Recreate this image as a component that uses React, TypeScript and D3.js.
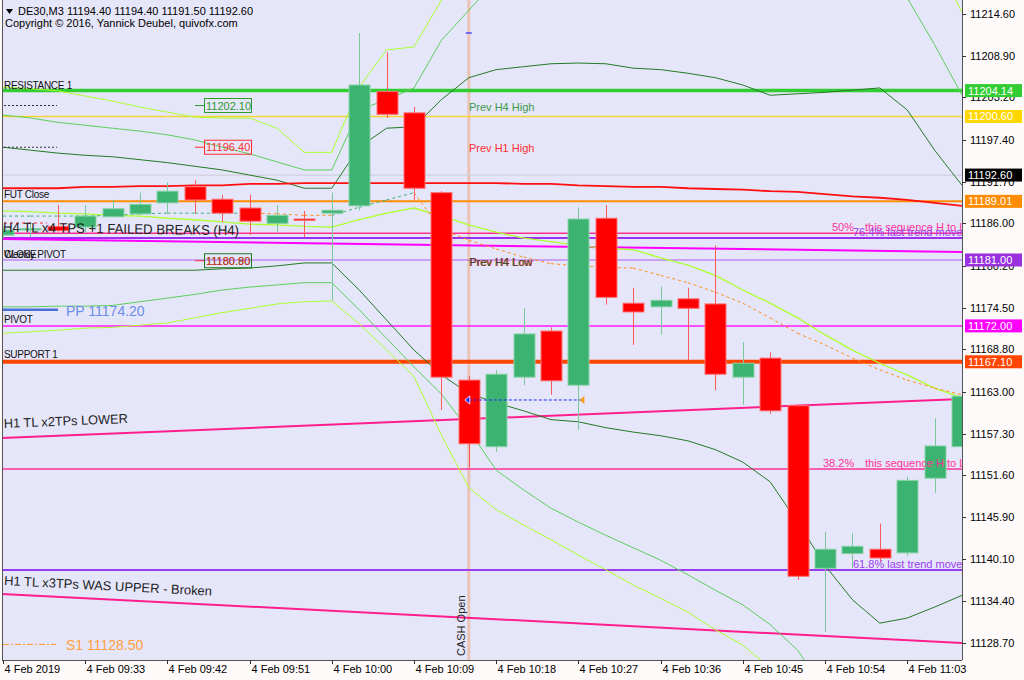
import React from "react";
import * as d3 from "d3";

// ---------- DATA ----------
const barTimes = ["09:24","09:27","09:30","09:33","09:36","09:39","09:42","09:45","09:48","09:51","09:54","09:57","10:00","10:03","10:06","10:09","10:12","10:15","10:18","10:21","10:24","10:27","10:30","10:33","10:36","10:39","10:42","10:45","10:48","10:51","10:54","10:57","11:00","11:03","11:06","11:09"];
const openP = [11184.4,11185.3,11185.6,11185.5,11186.9,11187.3,11188.8,11191.0,11189.3,11188.1,11186.0,11186.6,11187.4,11188.4,11204.0,11201.1,11190.2,11164.6,11155.5,11165.0,11171.3,11163.9,11186.7,11175.1,11174.6,11175.7,11175.0,11165.0,11167.6,11161.1,11138.9,11140.9,11141.5,11141.0,11151.2,11155.5];
const highP = [11185.6,11186.0,11188.5,11188.5,11189.2,11190.2,11191.6,11191.9,11189.9,11189.9,11188.5,11187.7,11190.2,11212.0,11209.4,11201.9,11190.4,11165.2,11166.0,11174.4,11171.8,11188.2,11188.5,11177.2,11177.4,11177.2,11183.0,11169.8,11168.4,11161.3,11143.9,11143.7,11145.0,11151.4,11159.4,11163.2];
const lowP = [11184.0,11184.1,11184.9,11184.8,11186.8,11187.2,11187.4,11187.4,11186.2,11184.4,11184.8,11184.1,11175.5,11187.8,11200.4,11189.2,11160.5,11152.7,11154.8,11163.9,11162.6,11157.8,11174.9,11169.4,11170.8,11167.3,11163.2,11161.2,11160.0,11137.3,11130.2,11138.9,11139.7,11140.6,11149.2,11155.0];
const closeP = [11185.1,11185.3,11185.0,11187.0,11188.0,11188.6,11190.4,11189.2,11187.4,11186.3,11187.1,11186.5,11187.8,11204.9,11200.9,11190.8,11165.0,11155.9,11165.4,11170.9,11164.5,11186.6,11175.9,11173.9,11175.5,11174.4,11165.4,11166.9,11160.4,11137.8,11141.5,11141.9,11140.3,11150.9,11155.6,11162.4];

const bandUpper3 = [11204.6,11204.4,11204.1,11203.4,11202.7,11201.9,11201.2,11200.5,11200.4,11200.4,11199.0,11195.7,11195.7,11204.6,11209.7,11210.1,11216.5,11222.0,11227.4,11227.4,11227.4,11227.4,11227.4,11227.4,11227.4,11227.4,11227.4,11227.4,11227.4,11227.4,11227.4,11227.4,11227.4,11227.4,11222.0,11214.9];
const bandUpper2 = [11200.8,11200.4,11199.8,11199.4,11199.0,11198.6,11198.1,11197.4,11196.4,11195.5,11194.4,11193.3,11193.3,11201.5,11202.9,11204.5,11211.0,11215.1,11219.2,11223.3,11224.7,11224.7,11224.7,11224.7,11224.7,11224.7,11224.7,11224.7,11224.7,11224.7,11224.7,11224.7,11224.7,11216.8,11210.4,11203.5];
const bandUpper1 = [11196.4,11196.0,11195.6,11195.3,11195.1,11194.7,11194.3,11193.8,11193.3,11192.6,11191.9,11190.8,11190.8,11196.4,11199.0,11199.2,11202.9,11205.9,11207.0,11207.4,11207.8,11207.9,11207.8,11207.2,11207.0,11206.5,11205.9,11204.9,11203.5,11203.7,11203.9,11204.2,11204.5,11201.5,11196.0,11191.2];
const bandLower1 = [11179.6,11179.6,11179.6,11179.6,11179.6,11179.6,11179.6,11179.6,11179.8,11179.9,11180.2,11180.6,11180.6,11176.9,11172.8,11168.7,11165.3,11162.8,11161.5,11160.4,11159.2,11158.9,11158.1,11157.5,11157.0,11156.3,11155.1,11153.4,11150.7,11145.2,11139.3,11134.6,11131.4,11132.1,11133.6,11135.2];
const bandLower2 = [11174.6,11174.6,11174.7,11174.7,11174.8,11175.3,11175.8,11176.3,11176.9,11177.3,11177.6,11177.9,11177.9,11174.2,11170.3,11166.4,11162.7,11157.8,11152.3,11149.6,11147.1,11145.2,11143.4,11141.7,11140.0,11138.0,11135.9,11133.9,11131.2,11127.7,11122.3,11118.2,11115.4,11115.4,11116.8,11118.2];
const bandLower3 = [11171.0,11171.2,11171.4,11171.7,11171.8,11172.1,11172.4,11173.1,11173.8,11174.4,11175.0,11175.3,11175.4,11172.3,11168.7,11165.1,11157.1,11149.9,11146.9,11144.8,11142.8,11140.7,11138.7,11136.6,11134.8,11132.9,11130.5,11128.4,11125.3,11120.9,11118.2,11116.8,11116.1,11116.1,11116.8,11118.2];
const midAvg = [11187.0,11187.0,11187.0,11187.0,11187.1,11187.3,11187.4,11187.4,11187.4,11187.4,11187.3,11187.1,11187.1,11188.2,11189.2,11190.2,11185.2,11183.7,11182.5,11181.4,11180.5,11180.2,11180.0,11179.9,11178.9,11177.9,11176.6,11175.1,11173.1,11171.0,11169.4,11167.6,11166.0,11164.6,11163.5,11162.6];
const fastAvg = [11187.7,11187.6,11187.4,11187.3,11187.1,11187.0,11186.7,11186.5,11186.2,11185.9,11185.8,11185.6,11185.5,11186.5,11187.4,11188.1,11187.0,11185.8,11184.8,11184.0,11183.5,11183.0,11182.6,11182.4,11181.3,11180.3,11178.9,11176.9,11175.1,11173.1,11170.8,11168.7,11166.9,11165.3,11163.5,11162.2];
const slowAvg = [11190.8,11190.8,11190.8,11191.0,11191.0,11191.1,11191.1,11191.2,11191.2,11191.4,11191.4,11191.5,11191.5,11191.5,11191.5,11191.5,11191.5,11191.5,11191.5,11191.4,11191.4,11191.2,11191.1,11191.0,11191.0,11190.8,11190.7,11190.6,11190.4,11190.3,11190.0,11189.7,11189.5,11189.2,11188.8,11188.4];

const xTickTimes = ["09:24","09:33","09:42","09:51","10:00","10:09","10:18","10:27","10:36","10:45","10:54","11:03"];
const xTickLabels = ["4 Feb 2019","4 Feb 09:33","4 Feb 09:42","4 Feb 09:51","4 Feb 10:00","4 Feb 10:09","4 Feb 10:18","4 Feb 10:27","4 Feb 10:36","4 Feb 10:45","4 Feb 10:54","4 Feb 11:03"];
const priceTicks = [11214.6,11208.9,11203.2,11197.4,11191.7,11186.0,11180.2,11174.5,11168.8,11163.0,11157.3,11151.6,11145.9,11140.1,11134.4,11128.7];

// horizontal levels
const levelPrices = [11204.14, 11200.60, 11192.60, 11189.01, 11184.65, 11184.00, 11181.00, 11172.00, 11167.10, 11152.46, 11138.66];
const levelColors = ["#32cd32", "#f3d53a", "#cfcfdc", "#ff8c00", "#ff2f8f", "#9a30f0", "#a95cf2", "#ff1aff", "#ff4500", "#ff3399", "#9a3df0"];
const levelWidths = [3.5, 1.5, 1.3, 2, 1.6, 2, 1.2, 1.5, 4, 1.6, 2];

// axis price boxes
const boxPrices = [11204.14, 11200.60, 11192.60, 11189.01, 11181.00, 11172.00, 11167.10];
const boxColors = ["#32cd32", "#ffd700", "#000000", "#ff8c00", "#9932dd", "#ff00ff", "#ff4500"];

// trend lines: [index0, price0, index1, price1]
const tlH4 = [0, 11183.86, 35, 11182.09];
const tlLower = [0, 11156.69, 35, 11162.02];
const tlUpper = [0, 11135.38, 35, 11128.69];

const FONT = "'Liberation Sans', Arial, Helvetica, sans-serif";

export default function App() {
  const L = 2, R = 962, T = 0, B = 660;
  const x = d3.scaleLinear().domain([0, barTimes.length - 1]).range([3, 962]);
  const y = d3.scaleLinear().domain([11126.37, 11216.51]).range([B, T]);
  const ti = (t: string) => barTimes.indexOf(t);

  const mkLine = (vals: number[]) =>
    d3.line<number>().x((_, i) => x(i)).y((v) => y(v))(vals) || "";

  const trend = (tl: number[]) => {
    const slope = (tl[3] - tl[1]) / (tl[2] - tl[0]);
    const pAt = (idx: number) => tl[1] + slope * (idx - tl[0]);
    const i0 = x.invert(L), i1 = x.invert(R);
    return { x1: L, y1: y(pAt(i0)), x2: R, y2: y(pAt(i1)), at: (px: number) => y(pAt(x.invert(px))),
      angle: (Math.atan2(y(pAt(i1)) - y(pAt(i0)), R - L) * 180) / Math.PI };
  };
  const tH4 = trend(tlH4), tLo = trend(tlLower), tUp = trend(tlUpper);

  const midSegs: { d: string; c: string }[] = [];
  let lastDir = 1;
  for (let i = 0; i < midAvg.length - 1; i++) {
    const diff = midAvg[i + 1] - midAvg[i];
    if (diff > 0) lastDir = 1; else if (diff < 0) lastDir = -1;
    midSegs.push({ d: `M${x(i)},${y(midAvg[i])}L${x(i + 1)},${y(midAvg[i + 1])}`, c: lastDir > 0 ? "#3cb371" : "#ff8c1a" });
  }

  const cashX = x(ti("10:15"));
  const tradeY = y(11161.88);

  return (
    <div style={{ position: "absolute", left: 0, top: 0 }}>
      <svg width={1024} height={680} style={{ display: "block", fontFamily: FONT }}>
        <defs>
          <clipPath id="plotClip">
            <rect x={L} y={T} width={R - L} height={B - T} />
          </clipPath>
        </defs>
        <rect x={0} y={0} width={1024} height={680} fill="#fffafa" />
        <rect x={L} y={T} width={R - L} height={B - T} fill="#e6e6fa" />

        <g clipPath="url(#plotClip)">
          {/* CASH open vertical */}
          <line x1={cashX} x2={cashX} y1={T} y2={B} stroke="#e9c3b5" strokeWidth={3} />

          {/* horizontal levels */}
          {levelPrices.map((p, i) => (
            <line key={"lv" + i} x1={L} x2={R} y1={y(p)} y2={y(p)} stroke={levelColors[i]} strokeWidth={levelWidths[i]} />
          ))}

          {/* trend lines */}
          <line x1={tH4.x1} y1={tH4.y1} x2={tH4.x2} y2={tH4.y2} stroke="#ff00ff" strokeWidth={2} />
          <line x1={tLo.x1} y1={tLo.y1} x2={tLo.x2} y2={tLo.y2} stroke="#ff1e8c" strokeWidth={2} />
          <line x1={tUp.x1} y1={tUp.y1} x2={tUp.x2} y2={tUp.y2} stroke="#ff1e8c" strokeWidth={2} />

          {/* bands & averages */}
          <path d={mkLine(bandUpper3)} fill="none" stroke="#adff2f" strokeWidth={1} />
          <path d={mkLine(bandLower3)} fill="none" stroke="#adff2f" strokeWidth={1} />
          <path d={mkLine(bandUpper2)} fill="none" stroke="#5ccf5c" strokeWidth={1} />
          <path d={mkLine(bandLower2)} fill="none" stroke="#5ccf5c" strokeWidth={1} />
          <path d={mkLine(bandUpper1)} fill="none" stroke="#237a23" strokeWidth={1} />
          <path d={mkLine(bandLower1)} fill="none" stroke="#237a23" strokeWidth={1} />
          <path d={mkLine(fastAvg)} fill="none" stroke="#adff2f" strokeWidth={1.3} />
          <path d={mkLine(slowAvg)} fill="none" stroke="#ff1010" strokeWidth={1.8} />
          {midSegs.map((s, i) => (
            <path key={"ms" + i} d={s.d} fill="none" stroke={s.c} strokeWidth={1} strokeDasharray="3,3" />
          ))}

          {/* candles */}
          {barTimes.map((t, i) => {
            const up = closeP[i] >= openP[i];
            const cx = Math.round(x(i)) + 0.5;
            const top = y(Math.max(openP[i], closeP[i]));
            const bot = y(Math.min(openP[i], closeP[i]));
            return (
              <g key={"c" + t}>
                <line x1={cx} x2={cx} y1={y(highP[i])} y2={y(lowP[i])} stroke={up ? "#7cc79a" : "#ff5a5a"} strokeWidth={1} />
                <rect x={cx - 10.5} y={top} width={21} height={Math.max(1.5, bot - top)}
                  fill={up ? "#3cb371" : "#ff0000"} stroke={up ? "#86d3a6" : "#ff7070"} strokeWidth={1} />
              </g>
            );
          })}

          {/* trade dotted line */}
          <line x1={x(ti("10:15"))} x2={x(ti("10:27")) + 3} y1={tradeY} y2={tradeY} stroke="#1f2bff" strokeWidth={1} strokeDasharray="3,2" />
          <path d={`M${x(ti("10:15")) - 4},${tradeY} l5,-4 l0,8 z`} fill="#1f2bff" stroke="#ffffff" strokeWidth={0.8} />
          <path d={`M${x(ti("10:27")) + 1},${tradeY} l5,-4 l0,8 z`} fill="#f0a020" />
          <line x1={cashX - 3} x2={cashX + 3} y1={y(11212.0)} y2={y(11212.0)} stroke="#4a4aff" strokeWidth={1.5} />

          {/* left label leaders */}
          <line x1={4} x2={57} y1={y(11202.10)} y2={y(11202.10)} stroke="#333" strokeDasharray="2,2" />
          <line x1={4} x2={57} y1={y(11196.40)} y2={y(11196.40)} stroke="#333" strokeDasharray="2,2" />
          <line x1={4} x2={47} y1={y(11186.05)} y2={y(11186.05)} stroke="#ff3030" strokeDasharray="3,3" />
          <line x1={3} x2={58} y1={y(11174.20)} y2={y(11174.20)} stroke="#4a70d8" strokeWidth={2.5} />
          <line x1={3} x2={56} y1={y(11128.50)} y2={y(11128.50)} stroke="#ff9a30" strokeWidth={1} strokeDasharray="6,2,2,2" />

          {/* boxed price labels */}
          <line x1={195} x2={204} y1={y(11202.10)} y2={y(11202.10)} stroke="#2e9b2e" />
          <rect x={204.5} y={y(11202.10) - 7} width={47} height={14} fill="none" stroke="#2e9b2e" />
          <text x={206} y={y(11202.10) + 4} fontSize={11} fill="#2e9b2e">11202.10</text>
          <line x1={195} x2={204} y1={y(11196.40)} y2={y(11196.40)} stroke="#ff3030" />
          <rect x={204.5} y={y(11196.40) - 7} width={47} height={14} fill="none" stroke="#ff3030" />
          <text x={206} y={y(11196.40) + 4} fontSize={11} fill="#ff3030">11196.40</text>
          <line x1={195} x2={204} y1={y(11180.90)} y2={y(11180.90)} stroke="#ff3030" />
          <rect x={204.5} y={y(11180.90) - 7} width={47} height={14} fill="none" stroke="#1f7a1f" />
          <text x={206} y={y(11180.90) + 4} fontSize={11} fill="#2d6a2d">11180.80</text>
          <text x={206} y={y(11180.90) + 4} fontSize={11} fill="#ff2020" fillOpacity={0.8}>11180.90</text>

          {/* level texts */}
          <text x={4} y={y(11204.14) - 2} fontSize={10} fill="#111" letterSpacing={-0.3}>RESISTANCE 1</text>
          <text x={4} y={y(11189.01) - 3} fontSize={10} fill="#111" letterSpacing={-0.3}>FUT Close</text>
          <text x={4} y={y(11181.00) - 2} fontSize={10} fill="#111" letterSpacing={-0.3}>Weekly PIVOT</text>
          <text x={4} y={y(11181.00) - 2} fontSize={10} fill="#111" letterSpacing={-0.3}>CLOSE</text>
          <text x={4} y={y(11172.00) - 3} fontSize={10} fill="#111" letterSpacing={-0.3}>PIVOT</text>
          <text x={4} y={y(11167.10) - 4} fontSize={10} fill="#111" letterSpacing={-0.3}>SUPPORT 1</text>
          <text x={66} y={y(11174.20) + 6} fontSize={14} fill="#6a8ee8">PP 11174.20</text>
          <text x={66} y={y(11128.50) + 6} fontSize={14} fill="#ffa040">S1 11128.50</text>

          <text transform={`translate(3,${tH4.at(3) - 7}) rotate(${tH4.angle})`} fontSize={14} fill="#222" textLength={236} lengthAdjust="spacingAndGlyphs">H4 TL x4 TPS +1 FAILED BREAKS (H4)</text>
          <text transform={`translate(4,${tLo.at(4) - 10}) rotate(${tLo.angle})`} fontSize={13} fill="#222" textLength={124} lengthAdjust="spacingAndGlyphs">H1 TL x2TPs LOWER</text>
          <text transform={`translate(4,${tUp.at(4) - 9}) rotate(${tUp.angle})`} fontSize={13} fill="#222" textLength={208} lengthAdjust="spacingAndGlyphs">H1 TL x3TPs WAS UPPER - Broken</text>

          <text x={469} y={y(11202.10) + 5} fontSize={11} fill="#3a9a4a">Prev H4 High</text>
          <text x={469} y={y(11196.40) + 5} fontSize={11} fill="#ff3030">Prev H1 High</text>
          <text x={470} y={y(11180.90) + 5} fontSize={11} fill="#ff3030">Prev H4 Low</text>
          <text x={469} y={y(11180.90) + 5} fontSize={11} fill="#2f4f2f">Prev H4 Low</text>

          {/* fib texts */}
          <text x={832} y={y(11184.65) - 2} fontSize={11} fill="#ff3399">50%</text>
          <text x={865} y={y(11184.65) - 2} fontSize={11} fill="#ff3399">this sequence H to L</text>
          <text x={853} y={y(11184.00) - 2} fontSize={11} fill="#9a3df0">76.4% last trend move</text>
          <text x={823} y={y(11152.46) - 2} fontSize={11} fill="#ff3399">38.2%</text>
          <text x={865} y={y(11152.46) - 2} fontSize={11} fill="#ff3399">this sequence H to L</text>
          <text x={853} y={y(11138.66) - 2} fontSize={11} fill="#9a3df0">61.8% last trend move</text>

          <text transform={`translate(${cashX - 4},${B - 4}) rotate(-90)`} fontSize={11} fill="#222">CASH Open</text>
        </g>

        {/* header */}
        <path d="M6,9 L13,9 L9.5,14 Z" fill="#000" />
        <text x={18} y={15} fontSize={11} fill="#000">DE30,M3  11194.40 11194.40 11191.50 11192.60</text>
        <text x={5} y={27} fontSize={11} fill="#000">Copyright © 2016, Yannick Deubel, quivofx.com</text>

        {/* frame */}
        <line x1={L + 0.5} x2={L + 0.5} y1={T} y2={B} stroke="#555" />
        <line x1={L} x2={R} y1={B + 0.5} y2={B + 0.5} stroke="#555" />
        <line x1={R + 0.5} x2={R + 0.5} y1={T} y2={B} stroke="#555" />

        {/* price axis */}
        {priceTicks.map((p) => (
          <g key={"pt" + p}>
            <line x1={R} x2={R + 4} y1={Math.round(y(p)) + 0.5} y2={Math.round(y(p)) + 0.5} stroke="#333" />
            <text x={970} y={y(p) + 4} fontSize={11} fill="#000">{p.toFixed(2)}</text>
          </g>
        ))}
        {boxPrices.map((p, i) => (
          <g key={"bx" + p}>
            <rect x={965} y={y(p) - 6.5} width={57} height={13} fill={boxColors[i]} />
            <text x={968} y={y(p) + 4} fontSize={11} fill="#fff">{p.toFixed(2)}</text>
          </g>
        ))}

        {/* time axis */}
        {xTickTimes.map((t, i) => {
          const tx = Math.round(x(ti(t))) + 0.5;
          return (
            <g key={"xt" + t}>
              <line x1={tx} x2={tx} y1={B} y2={B + 4} stroke="#333" />
              <text x={tx + 1} y={673} fontSize={11} fill="#000">{xTickLabels[i]}</text>
            </g>
          );
        })}
      </svg>
    </div>
  );
}
